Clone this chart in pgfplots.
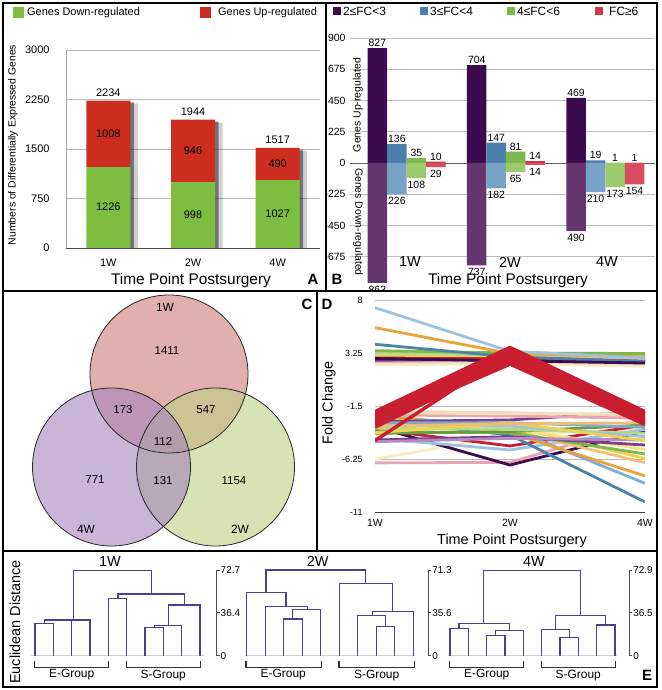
\documentclass[border=0pt]{standalone}
\usepackage{fontspec}
\setmainfont{Liberation Sans}
\usepackage{pgfplots}
\pgfplotsset{compat=1.18}
\definecolor{agreen}{HTML}{7DBE41}
\definecolor{ared}{HTML}{CD2D1E}
\definecolor{bpurU}{HTML}{3C0A4E}
\definecolor{bpurD}{HTML}{653570}
\definecolor{bbluU}{HTML}{4A80AB}
\definecolor{bbluD}{HTML}{78A2C6}
\definecolor{bgrnU}{HTML}{7DB94A}
\definecolor{bgrnD}{HTML}{9CCB6D}
\definecolor{bredU}{HTML}{D5354A}
\definecolor{bredD}{HTML}{D74C5E}
\definecolor{vpink}{RGB}{207,122,122}
\definecolor{vlav}{RGB}{163,132,190}
\definecolor{vgrn}{RGB}{190,208,132}
\definecolor{dpur}{HTML}{3C0B50}
\definecolor{dstb}{HTML}{4C82AC}
\definecolor{dlbl}{HTML}{9DC3E1}
\definecolor{dmbl}{HTML}{7FAED3}
\definecolor{dorg}{HTML}{E8A33A}
\definecolor{dpch}{HTML}{F2C07A}
\definecolor{dgrn}{HTML}{7CB84A}
\definecolor{dlgr}{HTML}{B5D98A}
\definecolor{dyel}{HTML}{F0D54A}
\definecolor{dpyl}{HTML}{F7EDC4}
\definecolor{dcrm}{HTML}{C41F33}
\definecolor{dpnk}{HTML}{E9A4B4}
\definecolor{dprp}{HTML}{7B3F8C}
\definecolor{dlpr}{HTML}{B38CC5}
\definecolor{dbge}{HTML}{EFE0C0}
\definecolor{dred}{HTML}{C81E30}
\definecolor{dendro}{RGB}{72,64,150}
\newcommand{\fs}[1]{\fontsize{#1}{#1}\selectfont}
\pgfplotsset{
  /pgf/number format/assume math mode=true,
  /pgf/number format/1000 sep={},
  dl/.style={line width=2.8bp, no marks, line join=round},
  rl/.style={line width=3.4bp, no marks, line join=round, dred},
  dd/.style={dendro, line width=1.1bp, no marks},
  bk/.style={black!80, line width=1.2bp, no marks},
  downlab/.style={every node near coord/.append style={yshift=-12bp}},
}
\begin{document}
\begin{tikzpicture}[x=1bp,y=1bp]
\path[use as bounding box] (0,0) rectangle (662,690);

% ================= Panel B =================
\begin{scope}
\clip (326,399) rectangle (657,687);
\begin{axis}[at={(350bp,402bp)},anchor=south west,scale only axis,width=305bp,height=250bp,
  xmin=-0.57,xmax=2.5,ymin=-900,ymax=900,
  ybar, bar width=19.5bp,
  axis line style={draw=none}, major tick length=0pt,
  xtick=\empty,
  ytick={-675,-450,-225,0,225,450,675,900},
  yticklabels={-675,-450,-225,0,225,450,675,900},
  yticklabel style={font=\fs{10.5}, xshift=-1bp},
  ymajorgrids, grid style={black!25, line width=0.7bp},
  extra y ticks={0}, extra y tick labels={},
  extra y tick style={grid style={black!60, line width=0.9bp}},
  nodes near coords, point meta=explicit symbolic,
  every node near coord/.append style={font=\fs{10.5}, inner sep=1.2bp},
  clip=false]
\addplot[fill=bpurU,draw=none,bar shift=-29.25bp] coordinates {(0,827)[827] (1,704)[704] (2,469)[469]};
\addplot[fill=bbluU,draw=none,bar shift=-9.75bp] coordinates {(0,136)[136] (1,147)[147] (2,19)[19]};
\addplot[fill=bgrnU,draw=none,bar shift=9.75bp] coordinates {(0,35)[35] (1,81)[81] (2,1)[1]};
\addplot[fill=bredU,draw=none,bar shift=29.25bp] coordinates {(0,10)[10] (1,14)[14] (2,1)[1]};
\addplot[fill=bpurD,draw=none,bar shift=-29.25bp,downlab] coordinates {(0,-863)[863] (1,-737)[737] (2,-490)[490]};
\addplot[fill=bbluD,draw=none,bar shift=-9.75bp,downlab] coordinates {(0,-226)[226] (1,-182)[182] (2,-210)[210]};
\addplot[fill=bgrnD,draw=none,bar shift=9.75bp,downlab] coordinates {(0,-108)[108] (1,-65)[65] (2,-173)[173]};
\addplot[fill=bredD,draw=none,bar shift=29.25bp,downlab] coordinates {(0,-29)[29] (1,-14)[14] (2,-154)[154]};
\end{axis}
\end{scope}
% B legend
\fill[bpurU] (333,675) rectangle (341,683);
\node[anchor=west,font=\fs{12},inner sep=0] at (343,679) {2≤FC<3};
\fill[bbluU] (420,675) rectangle (428,683);
\node[anchor=west,font=\fs{12},inner sep=0] at (430,679) {3≤FC<4};
\fill[bgrnU] (507,675) rectangle (515,683);
\node[anchor=west,font=\fs{12},inner sep=0] at (517,679) {4≤FC<6};
\fill[bredU] (595,675) rectangle (603,683);
\node[anchor=west,font=\fs{12},inner sep=0] at (609,679) {FC≥6};
\node[rotate=90,font=\fs{10.5}] at (358,585) {Genes Up-regulated};
\node[rotate=-90,font=\fs{10.5}] at (358,468) {Genes Down-regulated};
\node[font=\fs{14.5}] at (410,428) {1W};
\node[font=\fs{14.5}] at (510,428) {2W};
\node[font=\fs{14.5}] at (607,428) {4W};
\node[font=\fs{15.5}] at (508,409) {Time Point Postsurgery};
\node[font=\bfseries\fs{15}] at (337,411) {B};

% ================= Panel A =================
\begin{axis}[at={(66bp,442bp)},anchor=south west,scale only axis,width=254bp,height=198bp,
  xmin=-0.5,xmax=2.5,ymin=0,ymax=3000,
  axis x line*=bottom, axis y line*=left,
  x axis line style={draw=black!70, line width=0.9bp},
  y axis line style={draw=black!35, line width=0.8bp},
  ytick={0,750,1500,2250,3000}, xtick={0,1,2}, xticklabels={1W,2W,4W},
  major tick length=0pt,
  ymajorgrids, grid style={black!28, line width=0.7bp},
  yticklabel style={font=\fs{11}, xshift=-13bp},
  xticklabel style={font=\fs{11}, yshift=-7bp}]
\addplot[draw=none,mark=none] coordinates {(0,0)};
\end{axis}
\begin{axis}[at={(66bp,442bp)},anchor=south west,scale only axis,width=254bp,height=198bp,
  xmin=-0.5,xmax=2.5,ymin=0,ymax=3000,hide axis,ybar,bar width=48bp]
\addplot[fill=black,draw=none,fill opacity=0.18,bar shift=5.5bp] coordinates {(0,2190)(1,1900)(2,1473)};
\end{axis}
\begin{axis}[at={(66bp,442bp)},anchor=south west,scale only axis,width=254bp,height=198bp,
  xmin=-0.5,xmax=2.5,ymin=0,ymax=3000,hide axis,ybar,bar width=44bp]
\addplot[fill=black,draw=none,fill opacity=0.45,bar shift=3.5bp] coordinates {(0,2205)(1,1915)(2,1488)};
\end{axis}
\begin{axis}[at={(66bp,442bp)},anchor=south west,scale only axis,width=254bp,height=198bp,
  xmin=-0.5,xmax=2.5,ymin=0,ymax=3000,hide axis,ybar stacked,bar width=44bp]
\addplot[fill=agreen,draw=none] coordinates {(0,1226)(1,998)(2,1027)};
\addplot[fill=ared,draw=none] coordinates {(0,1008)(1,946)(2,490)};
\end{axis}
\begin{axis}[at={(66bp,442bp)},anchor=south west,scale only axis,width=254bp,height=198bp,
  xmin=-0.5,xmax=2.5,ymin=0,ymax=3000,hide axis,clip=false]
\addplot[draw=none,mark=none,nodes near coords,point meta=explicit symbolic,
  every node near coord/.append style={font=\fs{11},yshift=-7bp}]
  coordinates {(0,613)[1226] (1,499)[998] (2,513)[1027]
               (0,1730)[1008] (1,1471)[946] (2,1272)[490]
               (0,2340)[2234] (1,2055)[1944] (2,1632)[1517]};
\end{axis}
\fill[agreen] (13,672) rectangle (24,683);
\node[anchor=west,font=\fs{11},inner sep=0] at (27,677.5) {Genes Down-regulated};
\fill[ared] (200,672) rectangle (211,683);
\node[anchor=west,font=\fs{11},inner sep=0] at (218,677.5) {Genes Up-regulated};
\node[rotate=90,font=\fs{10.5}] at (13,545) {Numbers of Differentially Expressed Genes};
\node[font=\fs{15.5}] at (191,409) {Time Point Postsurgery};
\node[font=\bfseries\fs{15}] at (313,411) {A};

% ================= Panel C (Venn) =================
\begin{axis}[at={(0bp,0bp)},anchor=south west,scale only axis,width=662bp,height=690bp,
  xmin=0,xmax=662,ymin=0,ymax=690,hide axis,clip=false]
\addplot[draw=none,mark=none] coordinates {(0,0)};
\fill[vpink,fill opacity=0.6] (axis cs:169,316) circle[radius=79bp];
\fill[vgrn,fill opacity=0.6] (axis cs:215.5,223) circle[radius=79bp];
\fill[vlav,fill opacity=0.6] (axis cs:111.5,223) circle[radius=79bp];
\draw[black!85,line width=0.8bp] (axis cs:169,316) circle[radius=79bp];
\draw[black!85,line width=0.8bp] (axis cs:215.5,223) circle[radius=79bp];
\draw[black!85,line width=0.8bp] (axis cs:111.5,223) circle[radius=79bp];
\end{axis}
\node[font=\fs{12}] at (165,383) {1W};
\node[font=\fs{11.5}] at (167,339) {1411};
\node[font=\fs{11.5}] at (123,280) {173};
\node[font=\fs{11.5}] at (206,280) {547};
\node[font=\fs{11.5}] at (163,248) {112};
\node[font=\fs{11.5}] at (95,210) {771};
\node[font=\fs{11.5}] at (163,209) {131};
\node[font=\fs{11.5}] at (234,209) {1154};
\node[font=\fs{12}] at (86,161) {4W};
\node[font=\fs{12}] at (240,161) {2W};
\node[font=\bfseries\fs{15}] at (307,386) {C};

% ================= Panel D =================
\begin{axis}[at={(375bp,178bp)},anchor=south west,scale only axis,width=270bp,height=212bp,
  xmin=0,xmax=2,ymin=-11,ymax=8,
  axis x line*=bottom, axis y line*=left,
  x axis line style={draw=black!75, line width=0.9bp},
  y axis line style={draw=none},
  major tick length=0pt,
  ytick={-11,-6.25,-1.5,3.25,8}, xtick={0,1,2}, xticklabels={1W,2W,4W},
  yticklabel style={font=\fs{9}, xshift=-9bp},
  xticklabel style={font=\fs{10.5}, yshift=-4bp},
  ymajorgrids, grid style={black!28, line width=0.7bp}]
% lower cluster
\addplot[dl,dpnk] coordinates {(0,-6.6)(1,-6.55)(2,-3.0)};
\addplot[dl,dpyl] coordinates {(0,-6.28)(1,-4.1)(2,-3.5)};
\addplot[dl,dpur] coordinates {(0,-3.35)(1,-6.79)(2,-3.74)};
\addplot[dl,dcrm] coordinates {(0,-3.6)(1,-5.08)(2,-3.2)};
\addplot[dl,dlbl] coordinates {(0,-4.4)(1,-5.44)(2,-3.6)};
\addplot[dl,dstb] coordinates {(0,-2.75)(1,-4.1)(2,-10.1)};
\addplot[dl,dmbl] coordinates {(0,-2.3)(1,-3.5)(2,-8.43)};
\addplot[dl,dorg] coordinates {(0,-2.2)(1,-3.9)(2,-7.77)};
\addplot[dl,dpch] coordinates {(0,-2.6)(1,-3.65)(2,-6.58)};
\addplot[dl,dyel] coordinates {(0,-2.75)(1,-3.3)(2,-6.2)};
\addplot[dl,dgrn] coordinates {(0,-3.8)(1,-3.9)(2,-5.8)};
\addplot[dl,dyel!70!white] coordinates {(0,-3.05)(1,-3.5)(2,-5.4)};
\addplot[dl,dprp] coordinates {(0,-4.55)(1,-4.25)(2,-5.0)};
\addplot[dl,dprp] coordinates {(0,-2.9)(1,-2.75)(2,-2.0)};
\addplot[dl,dlpr] coordinates {(0,-4.7)(1,-4.4)(2,-4.55)};
\addplot[dl,dgrn!85!black] coordinates {(0,-3.95)(1,-3.8)(2,-3.2)};
\addplot[dl,dlgr] coordinates {(0,-3.5)(1,-3.6)(2,-3.95)};
\addplot[dl,dlbl] coordinates {(0,-3.2)(1,-3.3)(2,-4.25)};
\addplot[dl,dpch!70!white] coordinates {(0,-2.0)(1,-2.1)(2,-2.4)};
\addplot[dl,dpnk] coordinates {(0,-2.3)(1,-2.4)(2,-2.6)};
\addplot[dl,dbge] coordinates {(0,-2.1)(1,-2.2)(2,-2.2)};
\addplot[dl,dstb!70!white] coordinates {(0,-3.0)(1,-3.0)(2,-3.4)};
\addplot[dl,dyel] coordinates {(0,-3.9)(1,-3.0)(2,-4.6)};
\addplot[dl,dorg!70!white] coordinates {(0,-3.3)(1,-3.1)(2,-3.0)};
% upper cluster
\addplot[dl,dpyl] coordinates {(0,2.2)(1,2.3)(2,2.05)};
\addplot[dl,dbge] coordinates {(0,2.35)(1,2.45)(2,2.2)};
\addplot[dl,dpnk] coordinates {(0,2.5)(1,2.6)(2,2.6)};
\addplot[dl,dprp] coordinates {(0,2.6)(1,2.7)(2,2.45)};
\addplot[dl,dcrm] coordinates {(0,2.9)(1,2.8)(2,2.65)};
\addplot[dl,dyel] coordinates {(0,3.05)(1,3.0)(2,2.95)};
\addplot[dl,dpch] coordinates {(0,3.3)(1,3.1)(2,2.75)};
\addplot[dl,dlgr] coordinates {(0,3.2)(1,3.1)(2,3.05)};
\addplot[dl,dgrn] coordinates {(0,3.46)(1,3.25)(2,3.2)};
\addplot[dl,dstb] coordinates {(0,4.03)(1,2.9)(2,2.5)};
\addplot[dl,dorg] coordinates {(0,5.52)(1,3.2)(2,2.9)};
\addplot[dl,dlbl] coordinates {(0,7.31)(1,3.4)(2,2.8)};
\addplot[dl,dpur] coordinates {(0,2.75)(1,2.55)(2,2.35)};
% red band
\addplot[rl] coordinates {(0,-2.0)(1,3.75)(2,-2.0)};
\addplot[rl] coordinates {(0,-2.1)(1,3.6)(2,-2.2)};
\addplot[rl] coordinates {(0,-2.2)(1,3.4)(2,-2.1)};
\addplot[rl] coordinates {(0,-2.3)(1,3.2)(2,-2.4)};
\addplot[rl] coordinates {(0,-2.4)(1,3.0)(2,-2.5)};
\addplot[rl] coordinates {(0,-2.5)(1,3.5)(2,-2.3)};
\addplot[rl] coordinates {(0,-2.6)(1,2.8)(2,-2.7)};
\addplot[rl] coordinates {(0,-2.7)(1,2.6)(2,-2.9)};
\addplot[rl] coordinates {(0,-2.8)(1,3.1)(2,-2.6)};
\addplot[rl] coordinates {(0,-2.9)(1,2.4)(2,-3.0)};
\addplot[rl] coordinates {(0,-3.0)(1,2.25)(2,-3.15)};
\addplot[rl] coordinates {(0,-3.2)(1,2.9)(2,-2.8)};
\addplot[rl] coordinates {(0,-3.4)(1,2.5)(2,-3.1)};
\addplot[rl] coordinates {(0,-4.6)(1,3.3)(2,-2.4)};
\end{axis}
\node[rotate=90,font=\fs{14.5}] at (329,287) {Fold Change};
\node[font=\fs{14.5}] at (512,149) {Time Point Postsurgery};
\node[font=\bfseries\fs{15}] at (327,386) {D};

% ================= Panel E =================
% 1W
\begin{axis}[at={(25.83bp,34.3bp)},anchor=south west,scale only axis,width=190.87bp,height=85.7bp,
  xmin=0.5,xmax=10.913,ymin=0,ymax=72.7,clip=false,
  axis x line=none, axis y line*=right,
  y axis line style={black!70,line width=0.8bp},
  ytick={0,36.35,72.7}, yticklabels={0,36.4,72.7},
  tick align=outside, major tick length=3bp, tick style={black!70,line width=0.8bp},
  yticklabel style={font=\fs{10}, xshift=-2.5bp}]
\addplot[black!18,line width=1bp,no marks] coordinates {(0.8,0)(10.2,0)};
\addplot[dd] coordinates {(1,0)(1,27.4)(2,27.4)(2,0)};
\addplot[dd] coordinates {(3,0)(3,30.3)};
\addplot[dd] coordinates {(1.5,27.4)(1.5,30.3)(4,30.3)(4,0)};
\addplot[dd] coordinates {(5,0)(5,48.7)(6,48.7)(6,0)};
\addplot[dd] coordinates {(7,0)(7,24)(8,24)(8,0)};
\addplot[dd] coordinates {(7.5,24)(7.5,25.5)(9,25.5)(9,0)};
\addplot[dd] coordinates {(8.27,25.5)(8.27,43)(10,43)(10,0)};
\addplot[dd] coordinates {(5.53,48.7)(5.53,52.3)(9.15,52.3)(9.15,43)};
\addplot[dd] coordinates {(3.09,30.3)(3.09,72.1)(7.36,72.1)(7.36,52.3)};
\addplot[bk] coordinates {(0.96,-4.2)(0.96,-9.9)(5.02,-9.9)(5.02,-4.2)};
\addplot[bk] coordinates {(6,-4.2)(6,-9.9)(10.04,-9.9)(10.04,-4.2)};
\end{axis}
% 2W
\begin{axis}[at={(237.44bp,34.3bp)},anchor=south west,scale only axis,width=190.86bp,height=85.7bp,
  xmin=0.5,xmax=10.806,ymin=0,ymax=71.3,clip=false,
  axis x line=none, axis y line*=right,
  y axis line style={black!70,line width=0.8bp},
  ytick={0,35.65,71.3}, yticklabels={0,35.6,71.3},
  tick align=outside, major tick length=3bp, tick style={black!70,line width=0.8bp},
  yticklabel style={font=\fs{10}, xshift=-2.5bp}]
\addplot[black!18,line width=1bp,no marks] coordinates {(0.9,0)(10.1,0)};
\addplot[dd] coordinates {(3,0)(3,30.5)(4,30.5)(4,0)};
\addplot[dd] coordinates {(3.47,30.5)(3.47,38.6)(5,38.6)(5,0)};
\addplot[dd] coordinates {(2,0)(2,41.3)(4.26,41.3)(4.26,38.6)};
\addplot[dd] coordinates {(1,0)(1,52.7)(3.12,52.7)(3.12,41.3)};
\addplot[dd] coordinates {(8,0)(8,24.1)(9,24.1)(9,0)};
\addplot[dd] coordinates {(7,0)(7,33.3)(8.5,33.3)(8.5,24.1)};
\addplot[dd] coordinates {(7.77,33.3)(7.77,36.6)(10,36.6)(10,0)};
\addplot[dd] coordinates {(6,0)(6,60.2)(8.88,60.2)(8.88,36.6)};
\addplot[dd] coordinates {(2.04,52.7)(2.04,71.3)(7.43,71.3)(7.43,60.2)};
\addplot[bk] coordinates {(0.96,-4.1)(0.96,-9.7)(5.02,-9.7)(5.02,-4.1)};
\addplot[bk] coordinates {(5.98,-4.1)(5.98,-9.7)(10.04,-9.7)(10.04,-4.1)};
\end{axis}
% 4W
\begin{axis}[at={(440.83bp,34.3bp)},anchor=south west,scale only axis,width=188.47bp,height=85.7bp,
  xmin=0.5,xmax=10.78,ymin=0,ymax=72.9,clip=false,
  axis x line=none, axis y line*=right,
  y axis line style={black!70,line width=0.8bp},
  ytick={0,36.45,72.9}, yticklabels={0,36.5,72.9},
  tick align=outside, major tick length=3bp, tick style={black!70,line width=0.8bp},
  yticklabel style={font=\fs{10}, xshift=-2.5bp}]
\addplot[black!18,line width=1bp,no marks] coordinates {(0.9,0)(10.1,0)};
\addplot[dd] coordinates {(3,0)(3,17)(4,17)(4,0)};
\addplot[dd] coordinates {(3.49,17)(3.49,21.8)(5,21.8)(5,0)};
\addplot[dd] coordinates {(1,0)(1,23.3)(2,23.3)(2,0)};
\addplot[dd] coordinates {(1.49,23.3)(1.49,27.5)(4.25,27.5)(4.25,21.8)};
\addplot[dd] coordinates {(7,0)(7,15.6)(8,15.6)(8,0)};
\addplot[dd] coordinates {(6,0)(6,22.4)(7.51,22.4)(7.51,15.6)};
\addplot[dd] coordinates {(9,0)(9,26.1)(10,26.1)(10,0)};
\addplot[dd] coordinates {(6.75,22.4)(6.75,34)(9.49,34)(9.49,26.1)};
\addplot[dd] coordinates {(2.84,27.5)(2.84,72.3)(8.11,72.3)(8.11,34)};
\addplot[bk] coordinates {(0.96,-4.2)(0.96,-9.95)(5.02,-9.95)(5.02,-4.2)};
\addplot[bk] coordinates {(5.98,-4.2)(5.98,-9.95)(10.04,-9.95)(10.04,-4.2)};
\end{axis}
\node[rotate=90,font=\fs{14.5}] at (15,68) {Euclidean Distance};
\node[font=\fs{14.5}] at (110,128.3) {1W};
\node[font=\fs{14.5}] at (317.7,128.3) {2W};
\node[font=\fs{14.5}] at (534,128.3) {4W};
\node[font=\fs{12}] at (71.7,15) {E-Group};
\node[font=\fs{12}] at (163.3,14) {S-Group};
\node[font=\fs{12}] at (283.3,15) {E-Group};
\node[font=\fs{12}] at (376.7,14) {S-Group};
\node[font=\fs{12}] at (486.7,15) {E-Group};
\node[font=\fs{12}] at (578.3,14) {S-Group};
\node[font=\bfseries\fs{15}] at (647,15) {E};

% ================= Frame =================
\draw[black,line width=1.6bp] (3,3) rectangle (657,687);
\draw[black,line width=1.4bp] (326,687) -- (326,399);
\draw[black,line width=1.4bp] (3,399) -- (657,399);
\draw[black,line width=1.4bp] (317,399) -- (317,139);
\draw[black,line width=1.4bp] (3,139) -- (657,139);
\end{tikzpicture}
\end{document}
